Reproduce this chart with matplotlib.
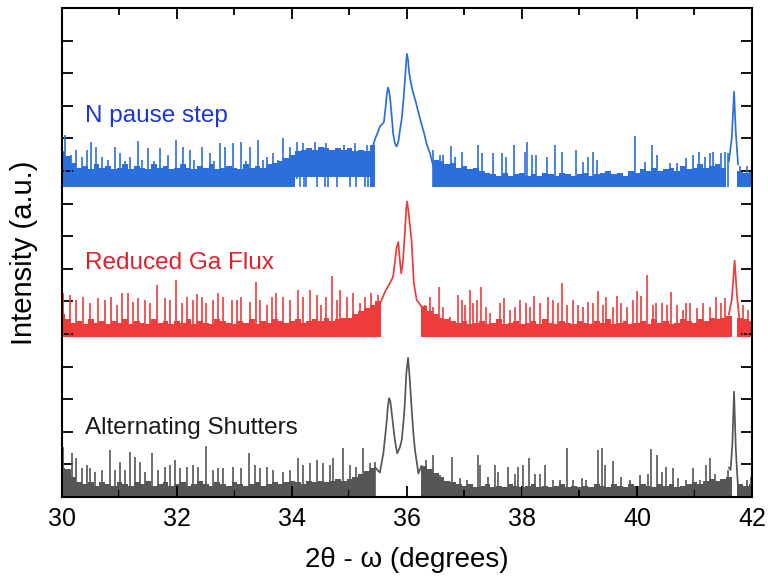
import matplotlib.pyplot as plt
import numpy as np

# sampling grid of the noise floor (0.1 deg steps, 30..42)
floor_x = np.round(np.arange(30.0, 42.05, 0.1), 2)

# --- N pause step (blue) ---
blue_floor_lo = [9.5] * 41 + [9.83] * 13 + [9.5] * 67
blue_floor_hi = [10.6, 10.45, 10.25, 10.1, 10.15, 10.05, 10.2, 10.1, 10.15, 10.05,
                 10.1, 10.2, 10.05, 10.15, 10.1, 10.05, 10.2, 10.1, 10.15, 10.05,
                 10.1, 10.2, 10.1, 10.05, 10.15, 10.1, 10.2, 10.05, 10.1, 10.15,
                 10.1, 10.05, 10.2, 10.1, 10.15, 10.1, 10.2, 10.25, 10.3, 10.4,
                 10.5, 10.6, 10.65, 10.7, 10.65, 10.75, 10.7, 10.65, 10.7, 10.65,
                 10.7, 10.6, 10.65, 10.6, 10.8, 9.5, 9.5, 9.5, 9.5, 9.5,
                 9.5, 9.5, 9.5, 9.5, 9.5, 10.35, 10.3, 10.2, 10.25, 10.1,
                 10.15, 10.05, 10.1, 10.0, 9.95, 9.9, 9.85, 9.95, 9.85, 9.9,
                 9.95, 9.85, 9.9, 9.85, 9.95, 9.9, 9.85, 9.95, 9.9, 9.85,
                 9.9, 9.95, 9.85, 9.9, 9.95, 10.0, 9.9, 9.95, 9.85, 10.0,
                 9.95, 10.05, 10.0, 10.1, 10.0, 10.05, 10.1, 10.0, 10.15, 10.05,
                 10.1, 10.2, 10.1, 10.15, 10.2, 10.1, 9.5, 9.5, 10.0, 9.95,
                 10.0]
blue_spike_x = [30.05, 30.15, 30.25, 30.34, 30.43, 30.51, 30.6, 30.69, 30.8, 30.92, 31.01, 31.1,
                31.18, 31.33, 31.4, 31.5, 31.6, 31.7, 31.85, 31.99, 32.11, 32.22, 32.3, 32.43,
                32.57, 32.65, 32.75, 32.83, 32.98, 33.12, 33.2, 33.27, 33.41, 33.5, 33.56, 33.67,
                33.75, 33.85, 33.96, 34.08, 34.2, 34.4, 34.6, 34.9, 35.1, 35.3,
                36.46, 36.57, 36.63, 36.76, 36.83, 36.95, 37.24, 37.3, 37.49, 37.65, 37.73, 37.86,
                38.05, 38.09, 38.17, 38.25, 38.43, 38.57, 38.69, 38.94, 39.07, 39.15, 39.23, 39.3,
                39.96, 40.14, 40.27, 40.35, 40.57, 40.69, 40.86, 40.98, 41.08, 41.18, 41.27, 41.33,
                41.47, 41.53, 41.59, 41.79, 41.91]
blue_spike_y = [11.1, 10.5, 10.64, 10.44, 10.64, 10.9, 10.74, 10.44, 10.35, 10.74, 10.54, 10.3,
                10.44, 10.93, 10.35, 10.7, 10.3, 10.7, 10.5, 10.95, 10.74, 10.64, 10.35, 10.74,
                10.54, 10.3, 10.85, 10.74, 10.85, 10.9, 10.3, 10.74, 10.95, 10.35, 10.44, 10.54,
                10.35, 11.0, 10.74, 10.9, 10.85, 10.9, 10.85, 10.8, 10.85, 10.8,
                10.64, 10.49, 10.5, 10.77, 10.44, 10.59, 10.8, 10.54, 10.56, 10.54, 10.44, 10.8,
                10.59, 10.9, 10.49, 10.49, 10.44, 10.8, 10.59, 10.64, 10.29, 10.44, 10.59, 10.34,
                11.07, 10.29, 10.79, 10.49, 10.24, 10.24, 10.39, 10.49, 10.59, 10.44, 10.56, 10.59,
                10.54, 10.59, 10.54, 10.14, 10.14]
blue_dip_x = [34.14, 34.21, 34.25, 34.43, 34.57, 34.63, 34.78, 35.01, 35.12, 35.27, 35.33]
blue_peak_x = [35.38, 35.44, 35.53, 35.6, 35.63, 35.65, 35.67, 35.69, 35.71, 35.74, 35.76,
               35.79, 35.82, 35.85, 35.88, 35.91, 35.94, 35.97, 35.99, 36.0, 36.02, 36.04,
               36.07, 36.1, 36.16, 36.2, 36.25, 36.3, 36.34, 36.4, 36.45]
blue_peak_y = [10.6, 10.95, 11.36, 11.5, 11.97, 12.35, 12.56, 12.45, 12.18, 11.6, 11.15,
               10.85, 10.75, 10.9, 11.26, 11.6, 12.18, 12.9, 13.4, 13.59, 13.4, 13.0,
               12.7, 12.45, 12.08, 11.8, 11.46, 11.15, 10.85, 10.55, 10.2]
blue_peak2_x = [41.6, 41.65, 41.69, 41.72, 41.76]
blue_peak2_y = [10.3, 11.0, 12.43, 11.2, 10.2]

# --- Reduced Ga Flux (red) ---
red_floor_lo = [4.92] * 121
red_floor_hi = [5.6, 5.45, 5.35, 5.4, 5.3, 5.45, 5.35, 5.4, 5.3, 5.4,
                5.35, 5.45, 5.3, 5.4, 5.35, 5.3, 5.45, 5.35, 5.4, 5.3,
                5.4, 5.35, 5.45, 5.3, 5.4, 5.35, 5.3, 5.45, 5.4, 5.35,
                5.3, 5.4, 5.35, 5.45, 5.3, 5.4, 5.35, 5.45, 5.4, 5.35,
                5.4, 5.45, 5.35, 5.4, 5.45, 5.4, 5.5, 5.4, 5.45, 5.5,
                5.5, 5.6, 5.7, 5.8, 5.9, 6.0, 4.92, 4.92, 4.92, 4.92,
                4.92, 4.92, 4.92, 5.85, 5.7, 5.6, 5.5, 5.45, 5.4, 5.35,
                5.4, 5.3, 5.35, 5.4, 5.3, 5.35, 5.45, 5.3, 5.35, 5.4,
                5.3, 5.35, 5.4, 5.3, 5.45, 5.35, 5.3, 5.4, 5.35, 5.3,
                5.4, 5.35, 5.3, 5.4, 5.35, 5.45, 5.3, 5.35, 5.4, 5.3,
                5.35, 5.4, 5.3, 5.45, 5.35, 5.4, 5.3, 5.35, 5.45, 5.4,
                5.35, 5.45, 5.4, 5.5, 5.45, 5.5, 5.55, 4.92, 5.5, 5.45,
                5.4]
red_spike_x = [30.02, 30.14, 30.25, 30.37, 30.49, 30.63, 30.75, 30.86, 30.95, 31.04, 31.15, 31.24,
               31.33, 31.44, 31.53, 31.66, 31.79, 31.88, 31.98, 32.08, 32.17, 32.28, 32.34, 32.43,
               32.51, 32.63, 32.72, 32.8, 32.95, 33.04, 33.12, 33.27, 33.37, 33.44, 33.56, 33.65,
               33.73, 33.85, 33.96, 34.11, 34.2, 34.31, 34.43, 34.51, 34.6, 34.69, 34.78, 34.83,
               34.95, 35.06, 35.18, 35.27, 35.38, 35.5,
               36.31, 36.4, 36.46, 36.56, 36.63, 36.75, 36.89, 36.95, 37.01, 37.1, 37.15, 37.22,
               37.28, 37.37, 37.44, 37.62, 37.68, 37.79, 37.88, 37.96, 38.07, 38.14, 38.21, 38.31,
               38.46, 38.54, 38.63, 38.7, 38.78, 38.89, 38.98, 39.07, 39.15, 39.24, 39.33, 39.41,
               39.47, 39.59, 39.65, 39.73, 39.82, 39.94, 40.01, 40.08, 40.18, 40.28, 40.34, 40.43,
               40.52, 40.6, 40.69, 40.81, 40.86, 40.92, 41.04, 41.15, 41.27, 41.37, 41.47, 41.53,
               41.85, 41.94]
red_spike_y = [6.25, 6.2, 6.04, 6.14, 5.94, 6.09, 6.04, 6.14, 5.89, 6.25, 6.25, 5.99,
               6.09, 6.04, 5.94, 6.5, 6.09, 6.04, 6.65, 5.94, 6.14, 6.04, 6.23, 6.14,
               5.94, 6.04, 6.25, 6.14, 6.04, 6.04, 6.14, 5.99, 6.6, 6.04, 5.89, 6.14,
               6.25, 6.14, 6.04, 6.35, 6.14, 6.35, 6.2, 5.89, 6.14, 6.78, 6.04, 6.35,
               6.14, 6.25, 5.94, 6.14, 6.25, 6.2,
               5.89, 6.14, 5.84, 6.43, 5.84, 5.53, 6.2, 6.04, 5.89, 6.35, 5.94, 6.04,
               6.45, 5.84, 5.63, 5.94, 6.09, 5.73, 5.84, 6.04, 5.94, 5.84, 6.17, 5.94,
               6.12, 6.04, 5.94, 6.56, 5.89, 6.04, 5.89, 5.84, 5.99, 5.94, 6.33, 5.89,
               6.14, 5.84, 6.17, 5.94, 5.84, 6.04, 6.33, 6.17, 6.81, 5.89, 5.94, 5.94,
               5.89, 6.3, 5.89, 5.73, 5.94, 5.94, 5.79, 5.94, 5.84, 6.12, 5.94, 6.09,
               5.89, 5.73]
red_peak_x = [35.55, 35.62, 35.7, 35.76, 35.79, 35.82, 35.85, 35.87, 35.9, 35.93, 35.96,
              35.99, 36.005, 36.03, 36.06, 36.08, 36.12, 36.17, 36.25]
red_peak_y = [6.0, 6.3, 6.55, 6.76, 7.2, 7.65, 7.82, 7.4, 6.86, 7.2, 8.0,
              8.9, 9.06, 8.7, 8.2, 7.88, 6.56, 6.04, 5.85]
red_peak2_x = [41.6, 41.65, 41.7, 41.74, 41.78]
red_peak2_y = [5.6, 6.05, 7.25, 6.2, 5.5]

# --- Alternating Shutters (gray) ---
gray_floor_lo = [0.0] * 121
gray_floor_hi = [0.9, 0.85, 0.6, 0.45, 0.4, 0.45, 0.35, 0.45, 0.4, 0.35,
                 0.45, 0.4, 0.35, 0.45, 0.4, 0.5, 0.35, 0.4, 0.45, 0.35,
                 0.4, 0.45, 0.35, 0.4, 0.5, 0.4, 0.35, 0.45, 0.4, 0.35,
                 0.45, 0.4, 0.35, 0.4, 0.45, 0.35, 0.4, 0.45, 0.4, 0.45,
                 0.5, 0.45, 0.4, 0.5, 0.45, 0.5, 0.45, 0.5, 0.55, 0.5,
                 0.55, 0.6, 0.7, 0.8, 0.9, 0, 0, 0, 0, 0,
                 0, 0, 0, 0.95, 0.85, 0.75, 0.6, 0.5, 0.45, 0.4,
                 0.35, 0.4, 0.3, 0.35, 0.4, 0.3, 0.35, 0.3, 0.4, 0.35,
                 0.3, 0.35, 0.4, 0.3, 0.35, 0.3, 0.35, 0.4, 0.3, 0.35,
                 0.3, 0.35, 0.3, 0.4, 0.35, 0.3, 0.4, 0.35, 0.3, 0.4,
                 0.35, 0.4, 0.35, 0.3, 0.4, 0.35, 0.4, 0.3, 0.35, 0.4,
                 0.45, 0.4, 0.5, 0.55, 0.5, 0.55, 0.6, 0, 0.4, 0.35,
                 0.4]
gray_spike_x = [30.02, 30.17, 30.24, 30.34, 30.43, 30.49, 30.57, 30.69, 30.83, 30.92, 31.01, 31.09,
                31.18, 31.27, 31.36, 31.44, 31.56, 31.67, 31.79, 31.88, 31.96, 32.05, 32.17, 32.28,
                32.37, 32.5, 32.63, 32.72, 32.8, 32.98, 33.12, 33.26, 33.36, 33.44, 33.56, 33.67,
                33.85, 33.96, 34.11, 34.2, 34.31, 34.43, 34.54, 34.66, 34.72, 34.89, 35.01, 35.12,
                35.24, 35.35, 35.44,
                36.34, 36.46, 36.57, 36.78, 36.92, 37.04, 37.23, 37.27, 37.41, 37.53, 37.59, 37.76,
                37.88, 37.94, 38.02, 38.13, 38.23, 38.31, 38.4, 38.54, 38.66, 38.79, 38.89, 39.05,
                39.12, 39.33, 39.39, 39.44, 39.58, 39.73, 39.88, 40.05, 40.2, 40.24, 40.35, 40.43,
                40.5, 40.63, 40.72, 40.86, 40.97, 41.1, 41.21, 41.27, 41.36, 41.59, 41.91, 41.99]
gray_spike_y = [1.54, 1.34, 1.19, 0.88, 0.98, 0.88, 0.78, 0.83, 1.44, 0.83, 1.08, 0.83,
                1.39, 1.24, 1.08, 0.78, 1.34, 0.83, 0.93, 0.98, 1.14, 0.88, 0.93, 0.98,
                0.93, 1.56, 0.83, 0.88, 0.88, 0.93, 0.88, 1.34, 0.98, 0.88, 0.93, 0.83,
                0.78, 0.83, 1.19, 0.98, 1.03, 1.14, 1.03, 0.98, 1.19, 1.49, 0.98, 0.93,
                1.49, 1.03, 1.08,
                1.14, 1.29, 0.67, 1.24, 0.57, 0.52, 1.29, 0.98, 0.62, 0.98, 0.78, 0.93,
                0.72, 0.93, 0.98, 1.21, 0.72, 0.72, 0.98, 0.52, 0.52, 1.49, 0.52, 0.57,
                0.52, 1.44, 1.49, 0.98, 1.11, 0.62, 0.52, 0.67, 0.72, 1.46, 1.29, 0.78,
                0.93, 0.88, 0.57, 0.52, 0.88, 0.52, 0.98, 1.19, 0.72, 0.83, 0.52, 0.62]
gray_peak_x = [35.45, 35.53, 35.59, 35.63, 35.65, 35.67, 35.69, 35.71, 35.73, 35.76, 35.79,
               35.83, 35.86, 35.88, 35.91, 35.94, 35.96, 35.99, 36.02, 36.05, 36.08, 36.11,
               36.14, 36.2, 36.25]
gray_peak_y = [0.9, 0.75, 1.34, 2.0, 2.36, 2.8, 3.03, 2.95, 2.67, 2.2, 1.75,
               1.34, 1.45, 1.54, 1.75, 2.3, 2.77, 3.8, 4.27, 3.6, 2.77, 2.0,
               1.44, 0.72, 0.95]
gray_peak2_x = [41.6, 41.63, 41.66, 41.69, 41.72, 41.74, 41.76]
gray_peak2_y = [0.9, 0.83, 1.6, 3.23, 1.5, 0.83, 0.3]

series = [
    ("N pause step", "#2a6fdb", "#1a35d8", 11.69,
     blue_floor_lo, blue_floor_hi, blue_spike_x, blue_spike_y,
     [(blue_peak_x, blue_peak_y), (blue_peak2_x, blue_peak2_y)]),
    ("Reduced Ga Flux", "#ee3b3b", "#e0202a", 7.18,
     red_floor_lo, red_floor_hi, red_spike_x, red_spike_y,
     [(red_peak_x, red_peak_y), (red_peak2_x, red_peak2_y)]),
    ("Alternating Shutters", "#565656", "#1a1a1a", 2.12,
     gray_floor_lo, gray_floor_hi, gray_spike_x, gray_spike_y,
     [(gray_peak_x, gray_peak_y), (gray_peak2_x, gray_peak2_y)]),
]

plt.rcParams["font.family"] = ["Liberation Sans", "DejaVu Sans"]

fig = plt.figure(figsize=(7.68, 5.79), dpi=100)
ax = fig.add_axes([0.0807, 0.1416, 0.8983, 0.8446])

for name, color, tcolor, ty, flo, fhi, sx, sy, peaks in series:
    ax.fill_between(floor_x, flo, fhi, step="mid", color=color, linewidth=0)
    base = np.interp(sx, floor_x, flo)
    ax.vlines(sx, base, sy, color=color, linewidth=1.2)
    for px, py in peaks:
        ax.plot(px, py, color=color, linewidth=1.25)
    ax.text(30.4, ty, name, color=tcolor, fontsize=17.5, va="center", ha="left")

ax.vlines(blue_dip_x, 9.5, 9.85, color="#2a6fdb", linewidth=1.2)

ax.set_xlim(30, 42)
ax.set_ylim(0, 15)
ax.set_xticks(np.arange(30, 43, 2))
ax.set_xticks(np.arange(30, 43, 1), minor=True)
ax.set_yticks(np.arange(0, 16, 1))
ax.set_yticklabels([])
ax.tick_params(which="both", direction="in", top=True, right=True, width=1.3)
ax.tick_params(which="major", length=8, labelsize=18, pad=7)
ax.tick_params(which="minor", length=5)
for sp in ax.spines.values():
    sp.set_linewidth(1.5)

ax.set_xlabel("2θ - ω (degrees)", fontsize=20, labelpad=12)
ax.set_ylabel("Intensity (a.u.)", fontsize=21, labelpad=10)

fig.savefig("out.png", dpi=100)
